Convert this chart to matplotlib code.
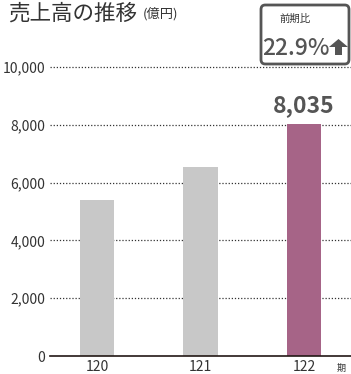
import matplotlib.pyplot as plt
from matplotlib.patches import FancyBboxPatch, Polygon

plt.rcParams['font.family'] = ['Noto Sans CJK JP', 'DejaVu Sans']

# data
periods = ['120', '121', '122']
sales = [5400, 6540, 8035]
bar_colors = ['#c8c8c8', '#c8c8c8', '#a66487']
yticks = [0, 2000, 4000, 6000, 8000, 10000]
growth = '22.9%'

W, H = 351, 374


def fx(px):
    return px / W


def fy(py):
    return 1 - py / H


fig = plt.figure(figsize=(W / 100, H / 100), dpi=100)
ax = fig.add_axes([fx(50), fy(356), 301 / W, 289 / H])

x = list(range(len(periods)))
ax.bar(x, sales, width=0.33, color=bar_colors, zorder=2)
ax.set_xlim(-0.454, 2.454)
ax.set_ylim(0, 10000)
ax.set_yticks(yticks)
ax.set_yticklabels([f'{v:,}' for v in yticks])
ax.set_xticks(x)
ax.set_xticklabels(periods)
ax.tick_params(axis='y', length=0, labelsize=10, colors='#333333', pad=3.5)
ax.tick_params(axis='x', length=0, labelsize=10, colors='#333333', pad=3)
for s in ['top', 'right', 'left']:
    ax.spines[s].set_visible(False)
ax.spines['bottom'].set_color('#231815')
ax.spines['bottom'].set_linewidth(1.2)
ax.spines['bottom'].set_zorder(3)

# dotted grid lines
for v in yticks[1:]:
    ax.axhline(v, color='#333333', lw=0.9, ls=(0, (1, 1.5)), zorder=1, clip_on=False)

# value label on latest bar
ax.text(x[-1], sales[-1] + 400, f'{sales[-1]:,}', ha='center', va='baseline',
        fontsize=16.5, fontweight='bold', color='#555555')

# title
fig.text(fx(8), fy(20), '売上高の推移', ha='left', va='baseline', fontsize=15.5, color='#333333')
fig.text(fx(143), fy(18), '(億円)', ha='left', va='baseline', fontsize=9.5, color='#333333')

# period unit
fig.text(fx(341), fy(368), '期', ha='center', va='center', fontsize=6.5, color='#333333')

# growth box
box = FancyBboxPatch((fx(261), fy(64)), fx(349) - fx(261), fy(5) - fy(64),
                     boxstyle='round,pad=0,rounding_size=0.012',
                     transform=fig.transFigure, facecolor='white',
                     edgecolor='#555555', lw=2, zorder=5)
fig.add_artist(box)
fig.text(fx(295), fy(19), '前期比', ha='center', va='center', fontsize=7.5,
         color='#333333', zorder=6)
fig.text(fx(262), fy(55), growth, ha='left', va='baseline', fontsize=16.5,
         fontweight='medium', color='#555555', zorder=6)
arrow_px = [(338.5, 39), (348, 47), (342, 47), (342, 55), (335, 55), (335, 47), (329, 47)]
arrow = Polygon([(fx(a), fy(b)) for a, b in arrow_px], closed=True,
                transform=fig.transFigure, facecolor='#555555', edgecolor='none', zorder=6)
fig.add_artist(arrow)

plt.savefig('out.png', dpi=100)
